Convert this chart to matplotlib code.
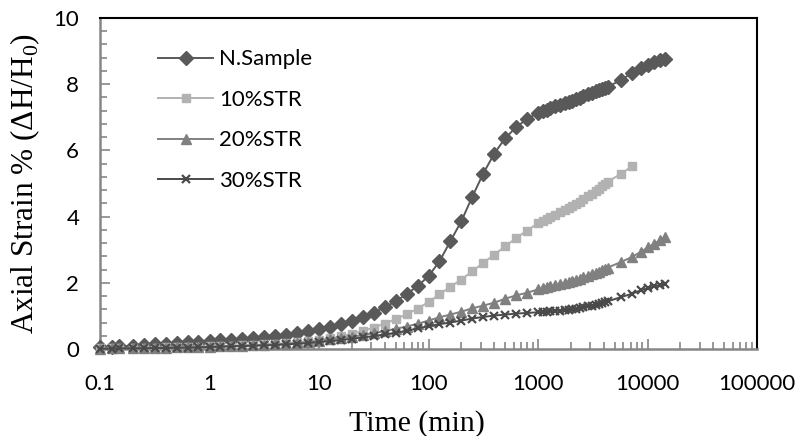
import matplotlib
matplotlib.use("Agg")
import matplotlib.pyplot as plt
from matplotlib.ticker import LogLocator, MultipleLocator, NullFormatter

# time (min), shared by all series
time_min = [0.1, 0.13, 0.15, 0.2, 0.25, 0.32, 0.4, 0.5, 0.63, 0.79,
            1, 1.26, 1.58, 2, 2.51, 3.16, 3.98, 5.01, 6.31, 7.94,
            10, 12.6, 15.8, 20, 25.1, 31.6, 39.8, 50.1, 63.1, 79.4,
            100, 126, 158, 200, 251, 316, 398, 501, 631, 794, 1000,
            1100, 1200, 1300, 1440, 1600, 1750, 1900, 2050, 2200, 2400,
            2600, 2880, 3100, 3350, 3600, 3850, 4100, 4320,
            5760, 7200, 8640, 10080, 11520, 12960, 14400]

n_sample = [0.05, 0.07, 0.08, 0.10, 0.12, 0.14, 0.16, 0.18, 0.20, 0.22,
            0.24, 0.26, 0.28, 0.30, 0.33, 0.36, 0.39, 0.43, 0.48, 0.54,
            0.60, 0.67, 0.75, 0.85, 0.97, 1.10, 1.26, 1.44, 1.66, 1.90,
            2.20, 2.65, 3.25, 3.87, 4.60, 5.30, 5.90, 6.37, 6.70, 6.95, 7.13,
            7.18, 7.23, 7.28, 7.33, 7.38, 7.42, 7.46, 7.50, 7.54, 7.59,
            7.64, 7.70, 7.74, 7.78, 7.82, 7.86, 7.89, 7.92,
            8.13, 8.34, 8.49, 8.58, 8.66, 8.72, 8.76]

str10 = [0.02, 0.02, 0.03, 0.03, 0.04, 0.04, 0.05, 0.05, 0.06, 0.07,
         0.08, 0.09, 0.10, 0.11, 0.12, 0.14, 0.16, 0.18, 0.20, 0.23,
         0.27, 0.32, 0.38, 0.46, 0.55, 0.65, 0.77, 0.90, 1.05, 1.22,
         1.42, 1.65, 1.88, 2.10, 2.35, 2.60, 2.85, 3.10, 3.35, 3.58, 3.80,
         3.87, 3.93, 3.99, 4.06, 4.13, 4.20, 4.26, 4.32, 4.38, 4.45,
         4.52, 4.61, 4.68, 4.76, 4.84, 4.91, 4.98, 5.05,
         5.30, 5.52]

str20 = [0.01, 0.02, 0.02, 0.03, 0.03, 0.04, 0.04, 0.05, 0.05, 0.06,
         0.07, 0.08, 0.09, 0.10, 0.11, 0.12, 0.14, 0.16, 0.18, 0.21,
         0.25, 0.29, 0.33, 0.37, 0.42, 0.48, 0.54, 0.61, 0.68, 0.76,
         0.86, 0.96, 1.04, 1.13, 1.23, 1.31, 1.40, 1.52, 1.62, 1.70, 1.80,
         1.83, 1.86, 1.89, 1.92, 1.96, 2.00, 2.03, 2.06, 2.09, 2.13,
         2.17, 2.22, 2.26, 2.30, 2.34, 2.38, 2.42, 2.46,
         2.63, 2.78, 2.93, 3.07, 3.18, 3.28, 3.38]

str30 = [0.01, 0.01, 0.02, 0.02, 0.02, 0.03, 0.03, 0.04, 0.04, 0.05,
         0.06, 0.07, 0.08, 0.09, 0.10, 0.11, 0.12, 0.14, 0.16, 0.18,
         0.21, 0.24, 0.27, 0.31, 0.35, 0.39, 0.44, 0.49, 0.55, 0.62,
         0.69, 0.75, 0.80, 0.86, 0.92, 0.97, 1.01, 1.04, 1.07, 1.09, 1.11,
         1.12, 1.13, 1.14, 1.15, 1.16, 1.18, 1.19, 1.20, 1.22, 1.24,
         1.26, 1.29, 1.31, 1.33, 1.36, 1.38, 1.41, 1.44,
         1.57, 1.67, 1.77, 1.84, 1.89, 1.93, 1.96]

series = [
    ("N.Sample", n_sample, "#595959", "D", 7.5, 1.0),
    ("10%STR", str10, "#b2b2b2", "s", 5.5, 1.0),
    ("20%STR", str20, "#808080", "^", 6.5, 1.0),
    ("30%STR", str30, "#4a4a4a", "x", 6.0, 1.6),
]

xticks = [0.1, 1, 10, 100, 1000, 10000, 100000]
xtick_labels = ["0.1", "1", "10", "100", "1000", "10000", "100000"]

plt.rcParams['mathtext.fontset'] = 'custom'
plt.rcParams['mathtext.rm'] = 'Liberation Serif'

fig = plt.figure(figsize=(8.02, 4.36), dpi=100)
ax = fig.add_axes([0.1247, 0.1995, 0.8192, 0.7592])

for label, vals, color, marker, ms, mew in series:
    ax.plot(time_min[:len(vals)], vals, color=color, linewidth=1.4,
            marker=marker, markersize=ms, markeredgewidth=mew,
            markeredgecolor=color, markerfacecolor=color,
            label=label, clip_on=False, zorder=3)

ax.set_xscale("log")
ax.set_xlim(0.1, 100000)
ax.set_ylim(0, 10)
ax.set_xticks(xticks)
ax.set_xticklabels(xtick_labels)
ax.xaxis.set_minor_locator(LogLocator(base=10, subs=range(2, 10), numticks=20))
ax.xaxis.set_minor_formatter(NullFormatter())
ax.yaxis.set_major_locator(MultipleLocator(2))
ax.yaxis.set_minor_locator(MultipleLocator(0.4))

tick_font = "Lato"
for lab in ax.get_xticklabels() + ax.get_yticklabels():
    lab.set_fontfamily(tick_font)
    lab.set_fontsize(16)
    lab.set_color("black")

ax.tick_params(axis="both", which="both", direction="in", color="#868686", width=1.2)
ax.tick_params(axis="both", which="major", length=7)
ax.tick_params(axis="both", which="minor", length=5)
ax.tick_params(axis="y", which="major", pad=15)
ax.tick_params(axis="x", which="major", pad=18)

for side in ["left", "bottom"]:
    ax.spines[side].set_color("#868686")
    ax.spines[side].set_linewidth(1.8)
for side in ["top", "right"]:
    ax.spines[side].set_color("black")
    ax.spines[side].set_linewidth(1.5)

ax.set_xlabel("Time (min)", fontfamily="Liberation Serif", fontsize=21.5)
ax.xaxis.set_label_coords(0.482, -0.185)
ax.set_ylabel("Axial Strain % (\u0394H/H$_\\mathrm{0}$)", fontfamily="Liberation Serif",
              fontsize=22.5, labelpad=8)

leg = ax.legend(loc="upper left", bbox_to_anchor=(0.088, 0.905), frameon=False,
                borderpad=0, borderaxespad=0, handlelength=2.5, handletextpad=0.25,
                labelspacing=0.92, numpoints=1, prop={"family": tick_font, "size": 16})

fig.savefig("out.png", dpi=100)
